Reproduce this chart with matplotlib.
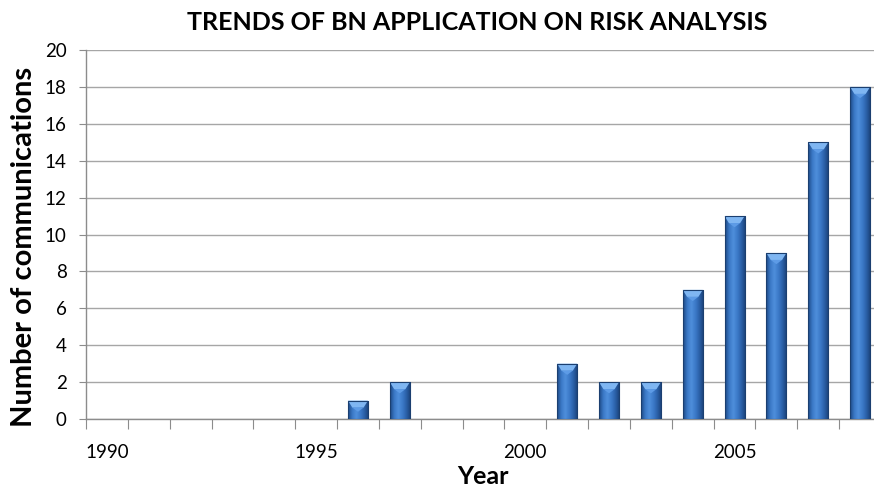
import numpy as np
import matplotlib
matplotlib.use("Agg")
import matplotlib.pyplot as plt
from matplotlib.colors import LinearSegmentedColormap
from matplotlib.patches import Polygon

years = list(range(1990, 2009))
counts = [0, 0, 0, 0, 0, 0, 1, 2, 0, 0, 0, 3, 2, 2, 7, 11, 9, 15, 18]
label_years = [1990, 1995, 2000, 2005]
yticks = list(range(0, 21, 2))

plt.rcParams['font.family'] = ['Lato', 'DejaVu Sans']

fig = plt.figure(figsize=(8.74, 4.88), dpi=100)
ax = fig.add_axes([86/874, 69/488, 795/874, 369/488])

x = np.arange(len(years))
width = 0.48
bars = ax.bar(x, counts, width=width, color='#2f6cb8', edgecolor='none', zorder=3)

cmap = LinearSegmentedColormap.from_list('bar', ['#1d4a86', '#3a78c6', '#4f8fdc', '#3b79c8', '#2a5fa6', '#1a3f75'])
grad = np.linspace(0, 1, 64).reshape(1, -1)
for b, v in zip(bars, counts):
    if v <= 0:
        continue
    x0, w = b.get_x(), b.get_width()
    im = ax.imshow(grad, cmap=cmap, aspect='auto', extent=[x0, x0 + w, 0, v], zorder=4, interpolation='bicubic')
    im.set_clip_path(b)
    bh = 0.38
    poly = Polygon([[x0, v], [x0 + w, v], [x0 + w * 0.78, v - bh], [x0 + w * 0.22, v - bh]],
                   closed=True, facecolor='#7fb6f2', edgecolor='none', zorder=5)
    ax.add_patch(poly)
    poly2 = Polygon([[x0 + w * 0.22, v - bh], [x0 + w * 0.78, v - bh], [x0 + w * 0.5, v - bh * 1.6]],
                    closed=True, facecolor='#5d9be6', edgecolor='none', zorder=5)
    ax.add_patch(poly2)
    ax.add_patch(plt.Rectangle((x0, 0), w, v, fill=False, edgecolor='#1b3f70', linewidth=0.8, zorder=6))

ax.set_xlim(-0.5, len(years) - 0.5)
ax.set_ylim(0, 20)
ax.set_yticks(yticks)
ax.tick_params(axis='y', labelsize=13.5, length=5, color='#8c8c8c', pad=9)
ax.yaxis.grid(True, color='#a6a6a6', linewidth=1.0, zorder=0)
ax.set_axisbelow(True)

ax.set_xticks(np.arange(-0.5, len(years), 1.0))
ax.set_xticklabels([])
ax.tick_params(axis='x', which='major', length=7, color='#8c8c8c')
ax.set_xticks([years.index(y) for y in label_years], minor=True)
ax.set_xticklabels([str(y) for y in label_years], minor=True)
ax.tick_params(axis='x', which='minor', length=0, labelsize=13.5, pad=18)

for s in ['top', 'right']:
    ax.spines[s].set_visible(False)
for s in ['left', 'bottom']:
    ax.spines[s].set_color('#8c8c8c')
    ax.spines[s].set_linewidth(1.0)

fig.text(477/874, 1 - 22/488, 'TRENDS OF BN APPLICATION ON RISK ANALYSIS', ha='center', va='center',
         fontsize=18, fontweight='bold')
fig.text(24/874, 1 - 247/488, 'Number of communications', ha='center', va='center', rotation=90,
         fontsize=21, fontweight='bold')
fig.text(483/874, 1 - 477/488, 'Year', ha='center', va='center', fontsize=18, fontweight='bold')

fig.savefig('out.png', dpi=100)
